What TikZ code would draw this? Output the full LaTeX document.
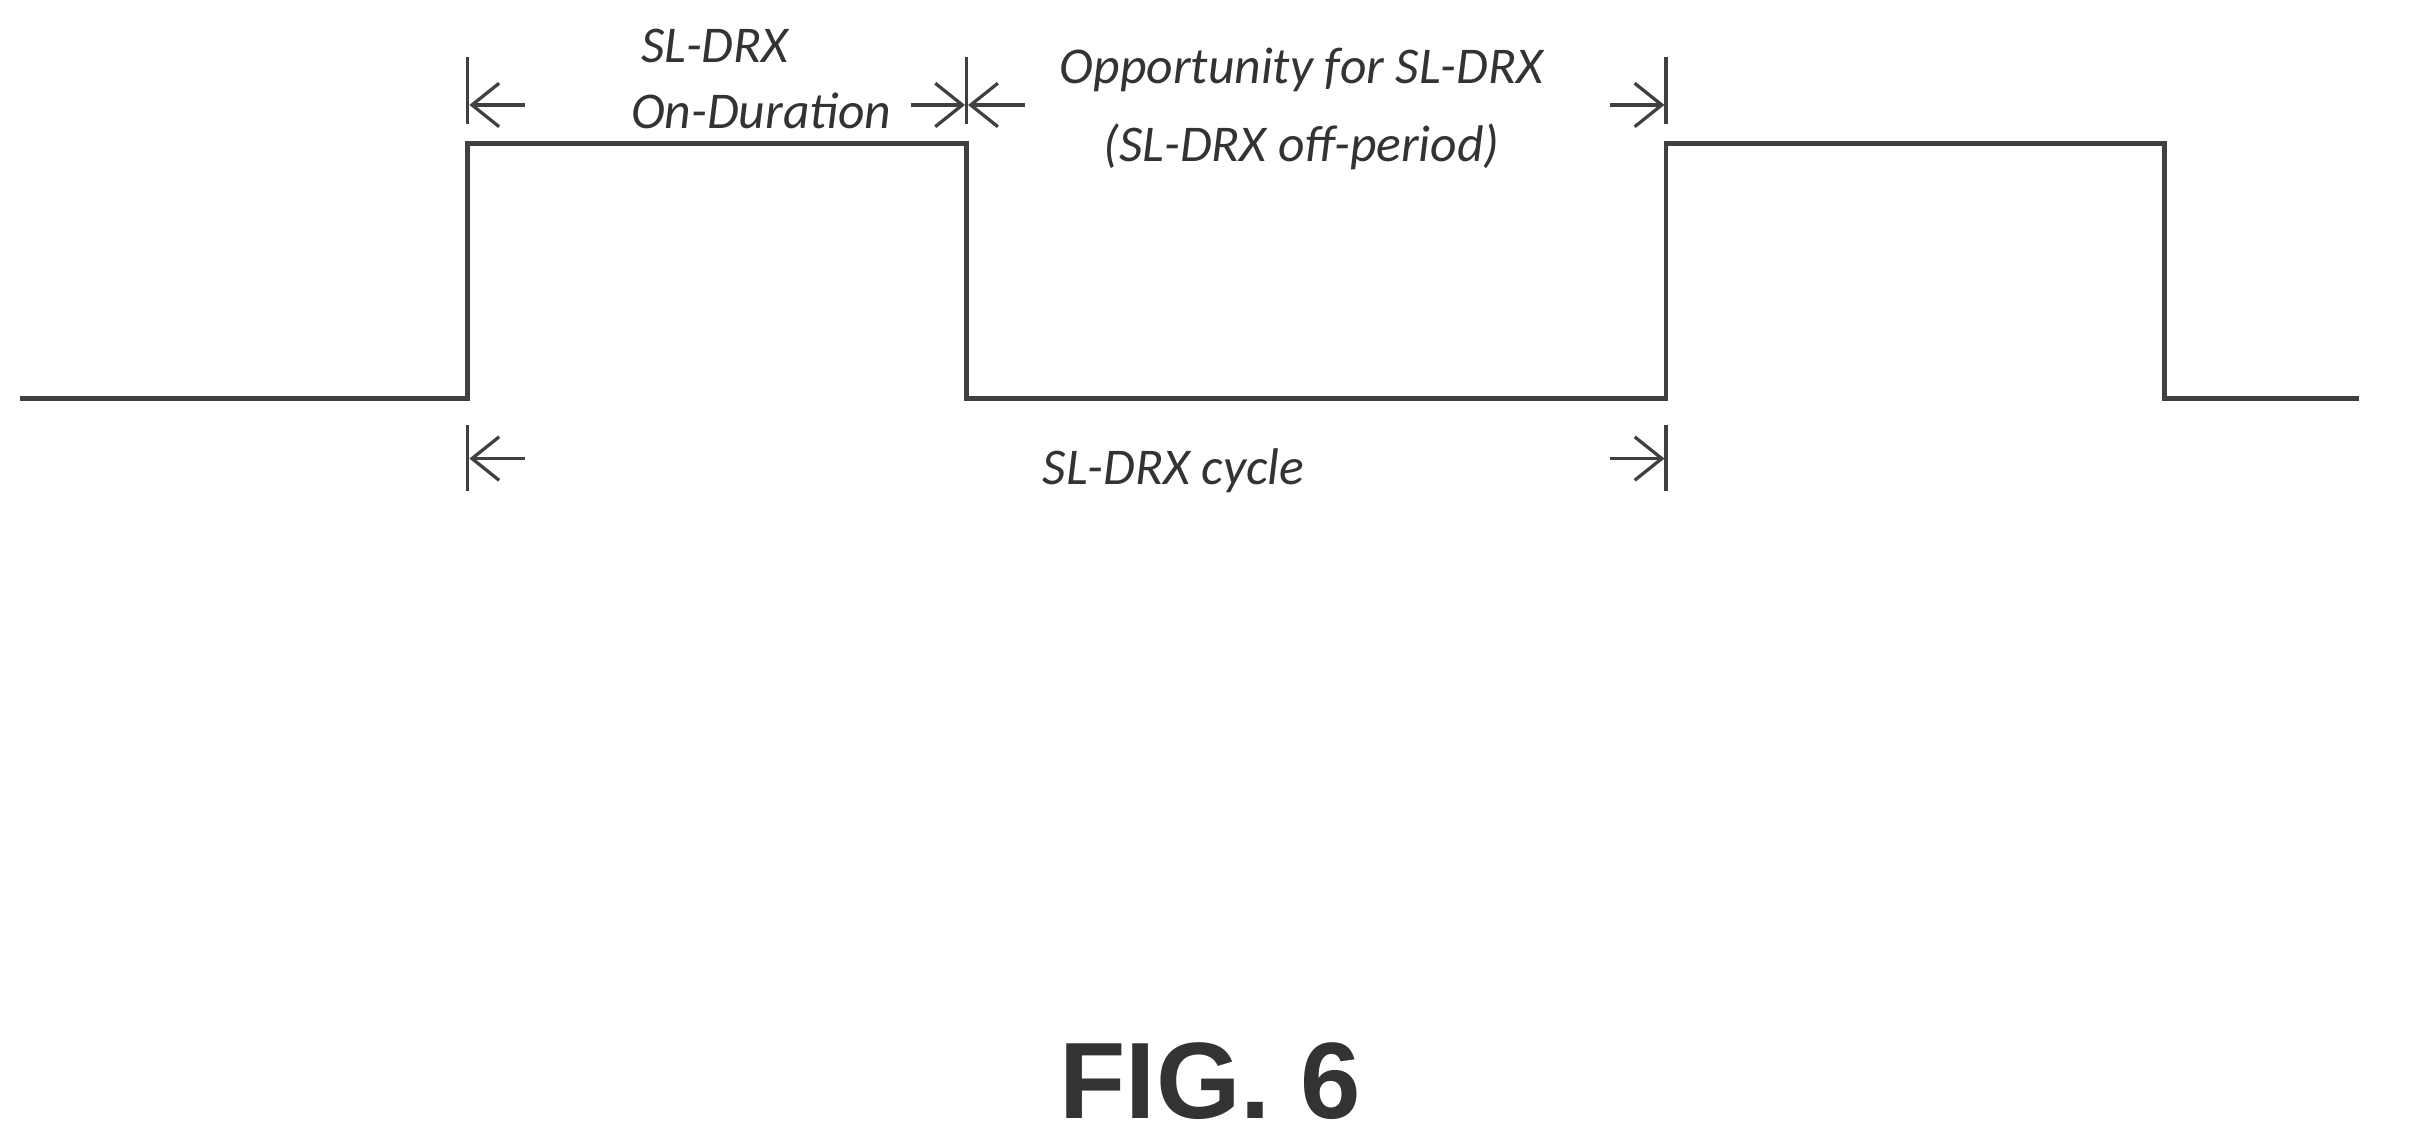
\documentclass[tikz,border=0pt]{standalone}
\usepackage{fontspec}
\setmainfont{Carlito}
\newfontfamily\figfont{Liberation Sans}
\usetikzlibrary{arrows.meta}
\begin{document}
\begin{tikzpicture}[x=0.01cm,y=-0.01cm,
  sig/.style={line width=0.9pt,color=black!75},
  dim/.style={line width=0.6pt,color=black!75},
  arr/.style={dim,-{Straight Barb[length=5pt,width=8pt]}},
  lbl/.style={font=\fontsize{9.5}{11}\selectfont\itshape,text=black!80,inner sep=0}]
\useasboundingbox (0,0) rectangle (1568,737);
\coordinate (s0) at (13,258); \coordinate (s1) at (303,258); \coordinate (s2) at (303,93);
\coordinate (s3) at (626,93); \coordinate (s4) at (626,258); \coordinate (s5) at (1079,258);
\coordinate (s6) at (1079,93); \coordinate (s7) at (1402,93); \coordinate (s8) at (1402,258);
\coordinate (s9) at (1528,258);
\draw[sig] (s0)--(s1)--(s2)--(s3)--(s4)--(s5)--(s6)--(s7)--(s8)--(s9);
% top ticks
\coordinate (t1a) at (303,37); \coordinate (t1b) at (303,80);
\coordinate (t2a) at (626,37); \coordinate (t2b) at (626,80);
\coordinate (t3a) at (1079,37); \coordinate (t3b) at (1079,80);
\draw[dim] (t1a)--(t1b); \draw[dim] (t2a)--(t2b); \draw[dim] (t3a)--(t3b);
\coordinate (a1) at (340,68); \coordinate (a1e) at (304,68);
\coordinate (a2) at (590,68); \coordinate (a2e) at (625,68);
\coordinate (a3) at (664,68); \coordinate (a3e) at (627,68);
\coordinate (a4) at (1043,68); \coordinate (a4e) at (1078,68);
\draw[arr] (a1)--(a1e); \draw[arr] (a2)--(a2e); \draw[arr] (a3)--(a3e); \draw[arr] (a4)--(a4e);
\node[lbl] (l1) at (463,30) {SL-DRX};
\node[lbl] (l2) at (493,72) {On-Duration};
\node[lbl] (l3) at (843,45) {Opportunity for SL-DRX};
\node[lbl] (l4) at (843,95) {(SL-DRX off-period)};
% bottom
\coordinate (b1a) at (303,275); \coordinate (b1b) at (303,318);
\coordinate (b2a) at (1079,275); \coordinate (b2b) at (1079,318);
\draw[dim] (b1a)--(b1b); \draw[dim] (b2a)--(b2b);
\coordinate (c1) at (340,297); \coordinate (c1e) at (304,297);
\coordinate (c2) at (1043,297); \coordinate (c2e) at (1078,297);
\draw[arr] (c1)--(c1e); \draw[arr] (c2)--(c2e);
\node[lbl] (l5) at (760,305) {SL-DRX cycle};
\node[font=\figfont\bfseries\fontsize{20}{24}\selectfont,text=black!80,inner sep=0] (fig) at (784,700) {FIG. 6};
\end{tikzpicture}
\end{document}
